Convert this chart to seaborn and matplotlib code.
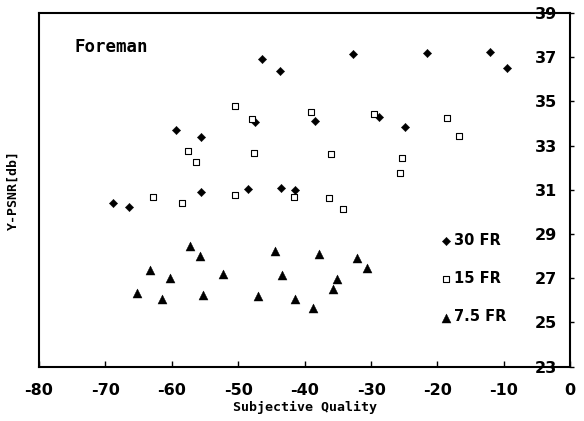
import matplotlib
matplotlib.use("Agg")
import matplotlib.pyplot as plt
import seaborn as sns
import pandas as pd

# Subjective quality (x) and Y-PSNR in dB (y) for each frame rate
fr30_quality = [-68.8, -66.4, -59.4, -55.6, -55.6, -48.5, -47.5, -46.4, -43.7,
                -43.6, -41.4, -38.5, -32.7, -28.8, -24.9, -21.6, -12.1, -9.5]
fr30_psnr = [30.39, 30.24, 33.71, 33.39, 30.89, 31.04, 34.07, 36.91, 36.39,
             31.07, 31.01, 34.13, 37.16, 34.28, 33.83, 37.19, 37.23, 36.53]

fr15_quality = [-62.8, -58.5, -57.5, -56.4, -50.5, -50.5, -47.9, -47.6, -41.6,
                -39.1, -36.4, -36.0, -34.3, -29.6, -25.7, -25.4, -18.5, -16.7]
fr15_psnr = [30.69, 30.42, 32.76, 32.25, 34.80, 30.77, 34.21, 32.68, 30.69,
             34.52, 30.65, 32.61, 30.12, 34.42, 31.75, 32.43, 34.25, 33.43]

fr75_quality = [-65.3, -63.3, -61.5, -60.2, -57.3, -55.7, -55.3, -52.3, -47.0,
                -44.4, -43.4, -41.4, -38.7, -37.8, -35.8, -35.1, -32.1, -30.6]
fr75_psnr = [26.32, 27.39, 26.05, 27.01, 28.48, 28.02, 26.23, 27.21, 26.20,
             28.22, 27.14, 26.05, 25.66, 28.10, 26.52, 26.98, 27.93, 27.45]

series_names = ["30 FR", "15 FR", "7.5 FR"]
x_ticks = [-80, -70, -60, -50, -40, -30, -20, -10, 0]
y_ticks = [23, 25, 27, 29, 31, 33, 35, 37, 39]

sns.set_theme(style="white", rc={"text.color": "black", "axes.labelcolor": "black",
                                 "xtick.color": "black", "ytick.color": "black"})
plt.rcParams["font.family"] = ["Liberation Sans Narrow", "DejaVu Sans"]

df30 = pd.DataFrame({"q": fr30_quality, "psnr": fr30_psnr})
df15 = pd.DataFrame({"q": fr15_quality, "psnr": fr15_psnr})
df75 = pd.DataFrame({"q": fr75_quality, "psnr": fr75_psnr})

fig = plt.figure(figsize=(5.84, 4.21), dpi=100)
ax = fig.add_axes([39 / 584, 1 - 366.7 / 421, (570.3 - 39) / 584, (366.7 - 13) / 421])

sns.scatterplot(data=df30, x="q", y="psnr", marker="D", s=18, color="black",
                edgecolor="black", linewidth=0.3, label=series_names[0], ax=ax)
sns.scatterplot(data=df15, x="q", y="psnr", marker="s", s=20, facecolor="white",
                edgecolor="black", linewidth=0.8, label=series_names[1], ax=ax)
sns.scatterplot(data=df75, x="q", y="psnr", marker="^", s=42, color="black",
                edgecolor="black", linewidth=0.3, label=series_names[2], ax=ax)

ax.set_xlim(-80, 0)
ax.set_ylim(23, 39)
ax.set_xticks(x_ticks)
ax.set_yticks(y_ticks)
ax.set_xticklabels([str(t) for t in x_ticks], fontsize=11.5, fontweight="bold")
ax.set_yticklabels([str(t) for t in y_ticks], fontsize=11.5, fontweight="bold", ha="right")
ax.yaxis.tick_right()
ax.tick_params(axis="x", direction="in", length=4, width=1, color="black",
               labelcolor="black", pad=12, bottom=True)
# y labels sit just inside the right spine, tick marks point outward
ax.tick_params(axis="y", direction="out", length=3, width=1, color="black",
               labelcolor="black", pad=-12.5, right=True, left=False)

for side in ["left", "right", "top", "bottom"]:
    ax.spines[side].set_visible(True)
    ax.spines[side].set_color("black")
    ax.spines[side].set_linewidth(1.5)

ax.set_xlabel("Subjective Quality", fontsize=9.5, fontweight="bold", color="black",
              family=["DejaVu Sans Mono", "DejaVu Sans"], labelpad=2)
ax.set_ylabel("Y-PSNR[db]", fontsize=9.5, fontweight="bold", color="black",
              family=["DejaVu Sans Mono", "DejaVu Sans"], labelpad=14)

ax.text(0.066, 0.905, "Foreman", transform=ax.transAxes, fontsize=12.5, fontweight="bold",
        color="black", family=["DejaVu Sans Mono", "DejaVu Sans"], ha="left", va="center")

leg = ax.legend(loc="upper left", bbox_to_anchor=(0.745, 0.395), frameon=False,
                fontsize=10.5, labelspacing=1.6, handletextpad=0.1,
                handlelength=0.8, borderaxespad=0)
for t in leg.get_texts():
    t.set_fontweight("bold")
    t.set_color("black")

fig.savefig("out.png", dpi=100, facecolor="white")
